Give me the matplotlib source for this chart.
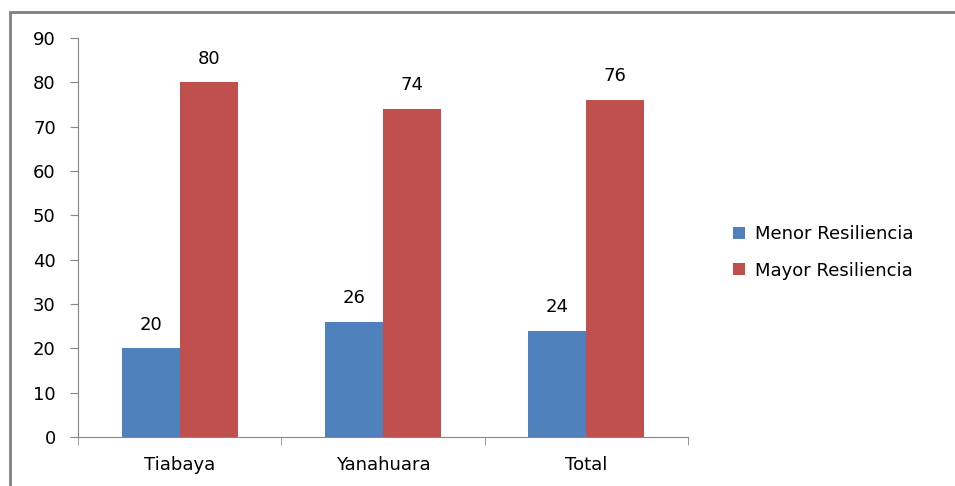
import matplotlib
matplotlib.use("Agg")
import matplotlib.pyplot as plt
from matplotlib.patches import Rectangle
import numpy as np

categorias = ["Tiabaya", "Yanahuara", "Total"]
menor = [20, 26, 24]
mayor = [80, 74, 76]
series = ["Menor Resiliencia", "Mayor Resiliencia"]
colores = ["#4F81BD", "#C0504D"]

plt.rcParams['font.family'] = ['DejaVu Sans']
fs = 13

fig = plt.figure(figsize=(9.55, 4.86), dpi=100)
fig.patch.set_facecolor("white")

# marco del grafico
fig.patches.append(Rectangle((10 / 955, -0.1), 1.1, (486 - 12) / 486 + 0.1,
                             transform=fig.transFigure, fill=False,
                             edgecolor="#808080", linewidth=2))

ax = fig.add_axes([78 / 955, 1 - 437 / 486, (688 - 78) / 955, (437 - 38) / 486])

x = np.arange(len(categorias))
w = 0.286
b1 = ax.bar(x - w / 2, menor, w, color=colores[0], label=series[0])
b2 = ax.bar(x + w / 2, mayor, w, color=colores[1], label=series[1])

for bars, vals in [(b1, menor), (b2, mayor)]:
    for r, v in zip(bars, vals):
        ax.annotate(str(v), (r.get_x() + r.get_width() / 2, v),
                    xytext=(0, 10.5), textcoords="offset points",
                    ha="center", va="bottom", fontsize=fs)

ax.set_ylim(0, 90)
ax.set_yticks(range(0, 91, 10))
ax.set_xlim(-0.5, 2.5)
ax.set_xticks(x)
ax.set_xticklabels(categorias, fontsize=fs)
ax.set_xticks([-0.5, 0.5, 1.5, 2.5], minor=True)
ax.tick_params(axis="x", which="major", length=0, pad=14)
ax.tick_params(axis="x", which="minor", length=6, color="#868686")
ax.tick_params(axis="y", length=6, color="#868686", labelsize=fs, pad=10)

for s in ["top", "right"]:
    ax.spines[s].set_visible(False)
for s in ["left", "bottom"]:
    ax.spines[s].set_color("#868686")

ax.legend(loc="center left", bbox_to_anchor=(733 / 955, 1 - 252.5 / 486),
          bbox_transform=fig.transFigure, frameon=False, fontsize=fs,
          borderpad=0, borderaxespad=0,
          handlelength=0.66, handleheight=0.66, handletextpad=0.55,
          labelspacing=1.0)

fig.savefig("out.png", dpi=100)
